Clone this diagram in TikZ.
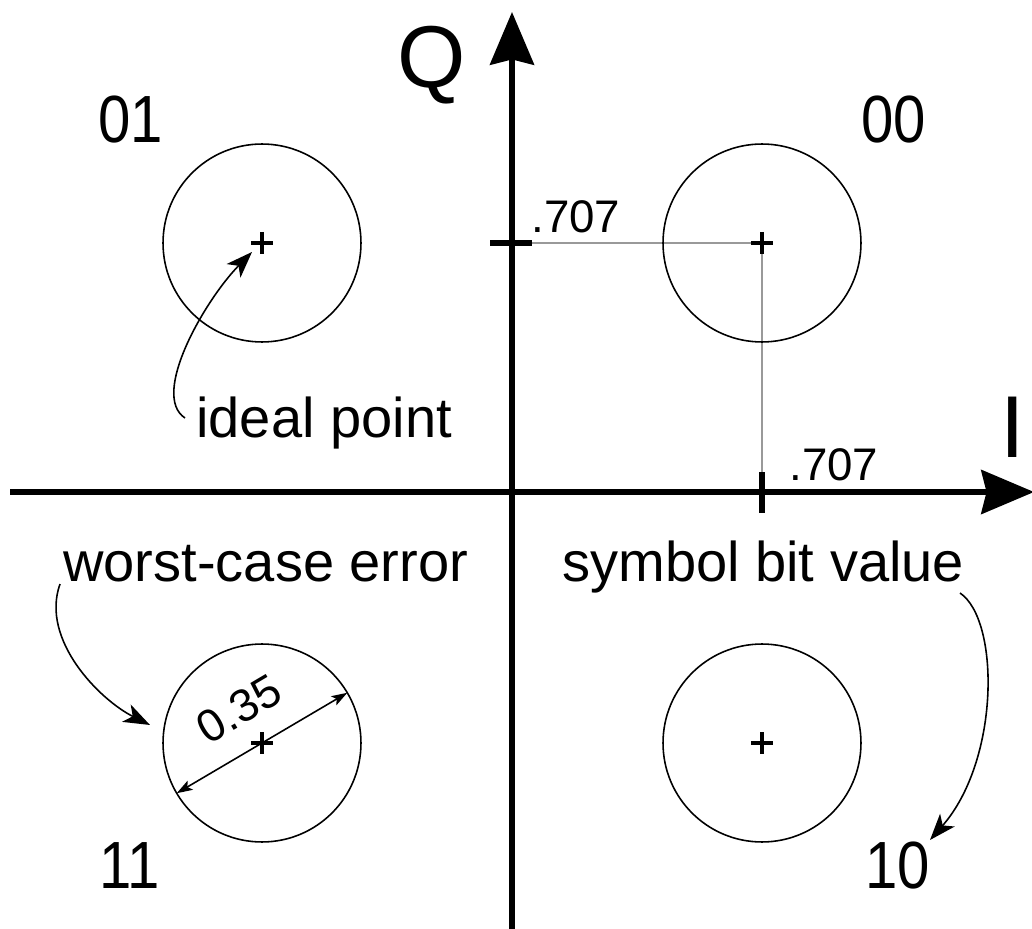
\documentclass[tikz,border=0pt]{standalone}
\usepackage{fontspec}
\setmainfont{Liberation Sans}
\usetikzlibrary{arrows.meta,calc}
\tikzset{
  axis/.style={line width=3.2pt,-{Stealth[length=30pt,width=25pt,inset=3pt]}},
  tickmark/.style={line width=3.2pt},
  ring/.style={line width=0.9pt},
  guide/.style={line width=1pt,draw=black!40},
  plusmark/.style={line width=2.4pt},
  callout/.style={line width=0.9pt,-{Stealth[length=15pt,width=11pt,inset=4pt]}},
  dimarrow/.style={line width=0.9pt,{Stealth[length=9pt,width=6pt,inset=2pt]}-{Stealth[length=9pt,width=6pt,inset=2pt]}},
  bigtxt/.style={font=\fontsize{50}{50}\selectfont,inner sep=0pt,anchor=base},
  quadtxt/.style={font=\fontsize{38}{38}\selectfont,inner sep=0pt,anchor=base,xscale=0.87,transform shape},
  notetxt/.style={font=\fontsize{31.9}{32}\selectfont,inner sep=0pt,anchor=base west},
  valtxt/.style={font=\fontsize{26}{26}\selectfont,inner sep=0pt},
}
\begin{document}
\begin{tikzpicture}[x=0.02cm,y=-0.02cm]
\useasboundingbox (0,0) rectangle (1032,929);
% axes
\coordinate (xl) at (10,492);
\coordinate (xr) at (1034,492);
\coordinate (yb) at (512,929);
\coordinate (yt) at (512,12);
\draw[axis] (xl) -- (xr);
\draw[axis] (yb) -- (yt);
\node[bigtxt] (Q) at (432,88) {Q};
\node[bigtxt] (I) at (1013,458) {I};
% ideal points
\coordinate (p01) at (262,243);
\coordinate (p00) at (762,243);
\coordinate (p11) at (262,743);
\coordinate (p10) at (762,743);
% guides to .707
\coordinate (qtick) at (512,243);
\coordinate (itick) at (762,492);
\draw[guide] (qtick) -- (p00) -- (itick);
\draw[tickmark] ($(qtick)+(-22,0)$) -- ($(qtick)+(20,0)$);
\draw[tickmark] ($(itick)+(0,-20)$) -- ($(itick)+(0,21)$);
\foreach \p in {p01,p00,p11,p10}{
  \draw[ring] (\p) circle[radius=1.98cm];
  \draw[plusmark] (\p) +(-11,0) -- +(11,0) (\p) +(0,-11) -- +(0,11);
}
\node[valtxt,anchor=base west] (v1) at (531,233) {.707};
\node[valtxt,anchor=base west] (v2) at (789,480) {.707};
% quadrant labels
\node[quadtxt] (l01) at (131,143) {01};
\node[quadtxt] (l00) at (894,143) {00};
\node[quadtxt] (l11) at (130,888) {11};
\node[quadtxt] (l10) at (898,888) {10};
% annotations
\node[notetxt] (ideal) at (196,438) {ideal point};
\node[notetxt] (worst) at (63,581) {worst-case error};
\node[notetxt] (sym) at (562,581) {symbol bit value};
\coordinate (ia) at (185,418);
\coordinate (ib) at (252,252);
\draw[callout] (ia) .. controls (150,395) and (205,300) .. (ib);
\coordinate (wa) at (60,584);
\coordinate (wb) at (150,725);
\draw[callout] (wa) .. controls (40,640) and (100,700) .. (wb);
\coordinate (sa) at (960,593);
\coordinate (sb) at (930,840);
\draw[callout] (sa) .. controls (1000,620) and (1000,760) .. (sb);
% diameter 0.35
\coordinate (da) at ($(p11)+(210.5:1.98cm)$);
\coordinate (db) at ($(p11)+(30.5:1.98cm)$);
\draw[dimarrow] (da) -- (db);
\node[valtxt,rotate=30.5] (dim) at (239,709) {0.35};
\end{tikzpicture}
\end{document}
